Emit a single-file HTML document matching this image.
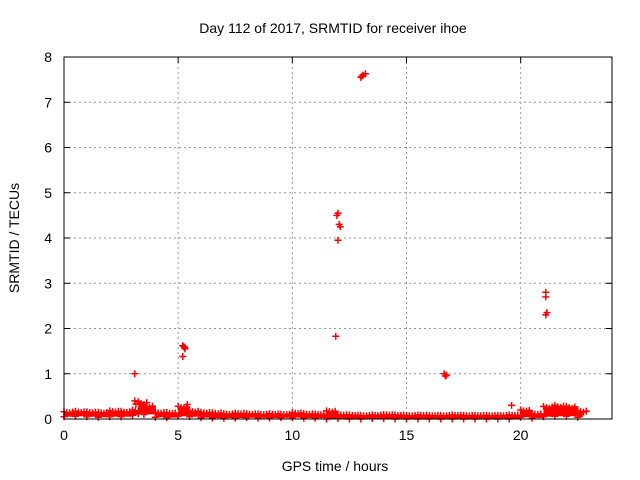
<!DOCTYPE html>
<html><head><meta charset="utf-8"><style>
body{margin:0;background:#fff}
svg{display:block;font-family:"Liberation Sans",sans-serif}
</style></head><body>
<svg id="chart" width="640" height="480" xmlns="http://www.w3.org/2000/svg">
<text x="333" y="33" font-size="14" text-anchor="middle">Day 112 of 2017, SRMTID for receiver ihoe</text>
<text x="335" y="471" font-size="14" text-anchor="middle">GPS time / hours</text>
<text x="19" y="238" font-size="14" text-anchor="middle" transform="rotate(-90 19 238)">SRMTID / TECUs</text>
<g id="grid"></g>
<g id="ticks"></g>
<g id="marks"></g>
<rect x="64" y="57" width="548" height="362" fill="none" stroke="#000" stroke-width="1"/>
</svg>
<script>
const xTicks=[0,5,10,15,20];
const yTicks=[0,1,2,3,4,5,6,7,8];
const baseHours=[0,0.5,1,1.5,2,2.5,3,3.25,3.5,4,4.5,5,5.5,6,6.5,7,7.5,8,8.5,9,9.5,10,10.5,11,11.5,12,12.5,13,13.5,14,14.5,15,15.5,16,16.5,17,17.5,18,18.5,19,19.5,20,20.5,21,21.5,22,22.5,22.7];
const baseHigh=[0.16,0.17,0.16,0.15,0.18,0.17,0.2,0.38,0.3,0.15,0.14,0.28,0.18,0.15,0.14,0.12,0.13,0.12,0.11,0.12,0.11,0.14,0.12,0.11,0.18,0.1,0.09,0.08,0.09,0.1,0.09,0.08,0.09,0.08,0.08,0.09,0.08,0.08,0.08,0.08,0.09,0.2,0.12,0.28,0.3,0.28,0.18,0.1];
const baseLow=[0.05,0.06,0.05,0.04,0.05,0.05,0.08,0.12,0.1,0.04,0.03,0.06,0.05,0.03,0.02,0.02,0.02,0.03,0.02,0.02,0.03,0.03,0.02,0.02,0.0,0.01,0.0,0.0,0.01,0.01,0.0,0.0,0.0,0.0,0.0,0.0,0.0,0.0,0.0,0.0,0.0,0.04,0.02,0.05,0.06,0.06,0.04,0.03];
const outX=[3.1,3.1,3.15,5.2,5.25,5.3,5.2,5.28,5.4,11.9,12.0,11.95,12.0,12.05,12.1,13.0,13.1,13.2,13.05,16.7,16.65,16.75,19.6,21.1,21.1,21.15,21.1];
const outY=[1.0,0.4,0.33,1.38,1.6,1.55,1.62,1.58,0.32,1.83,3.95,4.5,4.55,4.3,4.25,7.55,7.6,7.63,7.58,0.95,1.0,0.97,0.3,2.8,2.7,2.35,2.3];
const X=h=>64+h*548/24, Y=v=>419-v*362/8;
const NS="http://www.w3.org/2000/svg";
function mk(t,a,p){const e=document.createElementNS(NS,t);for(const k in a)e.setAttribute(k,a[k]);p.appendChild(e);return e;}
const grid=document.getElementById('grid'),ticks=document.getElementById('ticks'),marks=document.getElementById('marks');
xTicks.forEach(t=>{const x=X(t);
 if(t>0){const g=mk('line',{x1:x,x2:x,y1:57,y2:419,stroke:'#999','stroke-dasharray':'2,3'},grid);
 
 }
 mk('line',{x1:x,x2:x,y1:419,y2:413,stroke:'#000'},ticks);mk('line',{x1:x,x2:x,y1:57,y2:63,stroke:'#000'},ticks);
 const l=mk('text',{x:x,y:440,'font-size':14,'text-anchor':'middle'},ticks);l.textContent=t;
 
 });
yTicks.forEach(t=>{const y=Y(t);
 if(t>0&&t<8){const g=mk('line',{x1:64,x2:612,y1:y,y2:y,stroke:'#999','stroke-dasharray':'2,3'},grid);
 
 }
 mk('line',{x1:64,x2:70,y1:y,y2:y,stroke:'#000'},ticks);mk('line',{x1:612,x2:606,y1:y,y2:y,stroke:'#000'},ticks);
 const l=mk('text',{x:52,y:y+5,'font-size':14,'text-anchor':'end'},ticks);l.textContent=t;
 
 });
function plus(h,v){const x=X(h),y=Y(v);
 const p=mk('path',{d:`M${x-3.5},${y}h7M${x},${y-3.5}v7`,stroke:'#f00','stroke-width':1.5,fill:'none'},marks);
 
 }
for(let i=0;i<baseHours.length-1;i++){
 const x1=X(baseHours[i]),x2=X(baseHours[i+1]);
 const r=mk('rect',{x:x1,y:Y(baseHigh[i]),width:x2-x1+0.5,height:Math.max(1,Y(baseLow[i])-Y(baseHigh[i])),fill:'#f00'},marks);
 
 
 plus(baseHours[i],baseHigh[i]);plus(baseHours[i]+0.125,baseHigh[i]*0.9);plus(baseHours[i]+0.25,baseHigh[i]*0.85);plus(baseHours[i]+0.375,baseHigh[i]*0.95);plus(baseHours[i],baseLow[i]);
}
outX.forEach((h,i)=>plus(h,outY[i]));
</script>
</body></html>
